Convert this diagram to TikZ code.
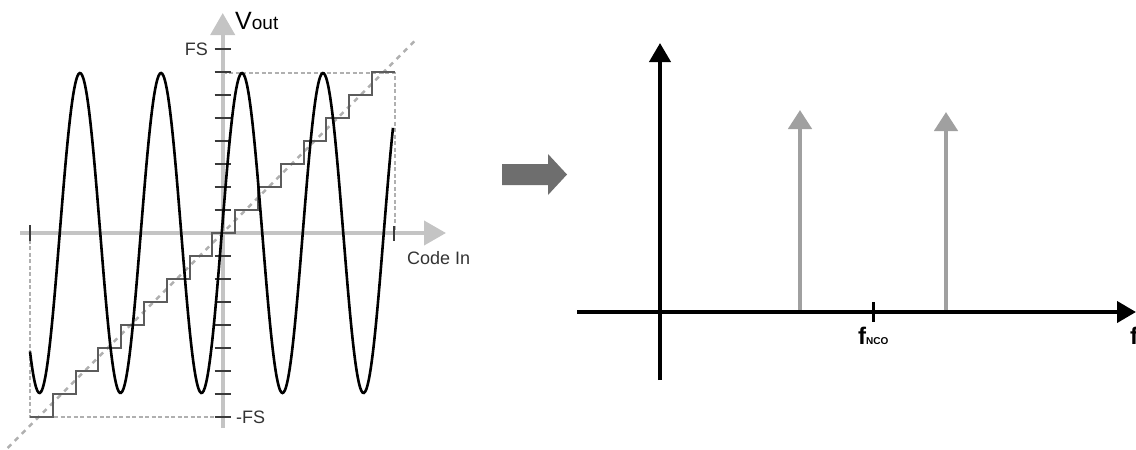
\documentclass[tikz,border=0pt]{standalone}
\usepackage{fontspec}
\setmainfont{Liberation Sans}
\usetikzlibrary{arrows.meta}
\definecolor{axisgray}{HTML}{C4C4C4}
\definecolor{tickgray}{HTML}{3A3A3A}
\definecolor{dashgray}{HTML}{B0B0B0}
\definecolor{stairgray}{HTML}{5C5C5C}
\definecolor{tonegray}{HTML}{A0A0A0}
\definecolor{bigarrow}{HTML}{6E6E6E}

\begin{document}
\begin{tikzpicture}[
x=1pt, y=-1pt,
lightaxis/.style={draw=axisgray, line width=4pt, -{Triangle[length=22pt,width=24pt]}},
darkaxis/.style={draw=black, line width=4pt, -{Triangle[length=19pt,width=21pt]}},
tickmark/.style={draw=tickgray, line width=1.8pt},
guide/.style={draw=dashgray, line width=1.2pt, dash pattern=on 4pt off 2.5pt},
diag/.style={draw=dashgray, line width=2.5pt, dash pattern=on 5pt off 5pt},
stair/.style={draw=stairgray, line width=2pt},
wave/.style={draw=black, line width=2.6pt},
tone/.style={draw=tonegray, line width=4.5pt, -{Triangle[length=19pt,width=23pt]}},
axlabel/.style={inner sep=0pt, text=black!80, font=\fontsize{18}{20}\selectfont},
freqlabel/.style={inner sep=0pt, anchor=base west, font=\bfseries\fontsize{24}{26}\selectfont}
]
\useasboundingbox (0,0) rectangle (1136,450);

% left plot: transfer curve
\coordinate (O) at (222.7,233);
\coordinate (ytop) at (222.7,13);
\coordinate (ybot) at (222.7,428);
\coordinate (xl) at (20,233);
\coordinate (xr) at (446,233);
\coordinate (dlo) at (7.7,448);
\coordinate (dhi) at (417.7,38);

\draw[diag] (dlo) -- (dhi);
\draw[guide] (222.7,73) -- (395,73) -- (395,233);
\draw[guide] (30,233) -- (30,417) -- (222.7,417);

\draw[lightaxis] (ybot) -- (ytop);
\draw[lightaxis] (xl) -- (xr);

\foreach \k in {1,...,8} {
  \draw[tickmark] (214.5,{233-23*\k}) -- (231,{233-23*\k});
  \draw[tickmark] (214.5,{233+23*\k}) -- (231,{233+23*\k});
}
\draw[tickmark] (30,225) -- (30,241);
\draw[tickmark] (394,226) -- (394,241);

\draw[stair] (30,417) foreach \i in {0,...,14} { -| ({30+22.8*(\i+1)},{233+23*(7-\i)}) } -- (395,72);

\draw[wave] plot[domain=30:393, samples=300, smooth] (\x,{233-160*cos(4.4444*(\x-80))});

\node[axlabel, text=black, font=\fontsize{25}{28}\selectfont, anchor=base west] (vout) at (235,29.5) {V{\fontsize{19}{22}\selectfont out}};
\node[axlabel, anchor=east] (fs) at (208,49) {FS};
\node[axlabel, anchor=west] (mfs) at (236,417) {-FS};
\node[axlabel, anchor=west] (codein) at (407,258) {Code In};

% transition arrow
\fill[bigarrow] (502,164) -- (548,164) -- (548,154) -- (567,174.5) -- (548,195) -- (548,185) -- (502,185) -- cycle;

% right plot: spectrum
\coordinate (P) at (660,312);
\coordinate (vtop) at (660,43);
\coordinate (vbot) at (660,380);
\coordinate (hl) at (577,312);
\coordinate (hr) at (1136,312);
\coordinate (t1) at (800,312);
\coordinate (t1top) at (800,110);
\coordinate (t2) at (946,312);
\coordinate (t2top) at (946,112);

\draw[tone] (t1) -- (t1top);
\draw[tone] (t2) -- (t2top);
\draw[darkaxis] (vbot) -- (vtop);
\draw[darkaxis] (hl) -- (hr);
\draw[draw=black, line width=3pt] (873,302) -- (873,322);

\node[freqlabel] (fnco) at (858,344) {f{\fontsize{10}{12}\selectfont NCO}};
\node[freqlabel] (faxis) at (1130,344) {f};
\end{tikzpicture}
\end{document}
